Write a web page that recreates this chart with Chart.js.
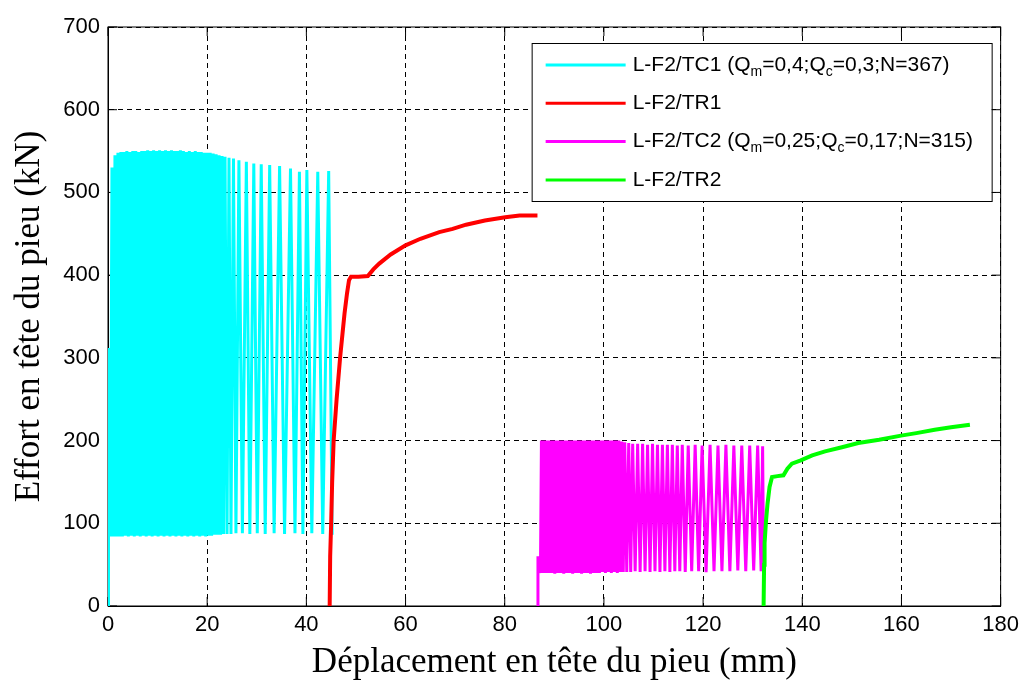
<!DOCTYPE html>
<html>
<head>
<meta charset="utf-8">
<script src="https://cdn.jsdelivr.net/npm/chart.js@4"></script>
<style>
html, body { margin: 0; padding: 0; background: #fff; }
#wrap { width: 1025px; height: 687px; }
</style>
</head>
<body>
<div id="wrap"><canvas class="graph"></canvas></div>
<script>
const tc1Points = [
    [0,0],[0.1,312],[0.5,84],[0.8,530],[1.1,84],[1.4,545],[1.7,84],[2.0,548],[2.3,84],[2.6,549],
    [2.9,84],[3.2,549],[3.5,85],[3.8,550],[4.1,84],[4.4,549],[4.7,85],[5.0,550],[5.3,84],[5.6,550],
    [5.9,85],[6.2,549],[6.5,84],[6.8,550],[7.1,85],[7.4,550],[7.7,84],[8.0,551],[8.3,85],[8.6,550],
    [8.9,84],[9.2,551],[9.5,85],[9.8,550],[10.1,84],[10.4,551],[10.7,85],[11.0,550],[11.3,84],[11.6,551],
    [11.9,85],[12.2,550],[12.5,84],[12.8,551],[13.1,85],[13.4,550],[13.7,84],[14.0,550],[14.3,85],[14.6,551],
    [14.9,84],[15.2,550],[15.5,85],[15.8,549],[16.1,84],[16.4,550],[16.7,85],[17.0,549],[17.3,84],[17.6,550],
    [17.9,85],[18.2,549],[18.5,84],[18.8,549],[19.1,85],[19.4,548],[19.7,84],[20.0,548],[20.3,85],[20.6,548],
    [20.9,85],[21.2,547],[21.5,86],[21.8,546],[22.1,86],[22.4,545],[22.7,86],[23.0,544],[23.3,87],[23.6,543],
    [24.0,87],[24.4,542],[24.8,87],[25.3,541],[25.8,88],[26.4,539],[27.1,88],[27.9,537],[28.6,87],[29.4,535],
    [30.1,88],[30.9,534],[31.7,87],[32.6,533],[33.5,88],[34.6,532],[35.6,87],[36.8,529],[37.7,88],[38.6,525],
    [39.3,87],[40.1,527],[41.1,88],[42.3,525],[43.3,87],[44.5,526],[45.2,86]
];
const tr1Points = [
    [44.7,0],[44.8,60],[45.0,100],[45.2,150],[45.5,200],[46.1,250],[46.8,300],[47.3,330],[47.7,354],[48.2,378],
    [48.6,394],[49.0,398],[50.5,398],[52.4,399],[53.5,407],[54.7,414],[57.0,425],[60.0,436],[63.0,444],[66.8,452],
    [69.5,456],[72.2,461],[76.0,466],[80.1,470],[83.0,472],[86.6,472]
];
const tc2Points = [
    [86.6,0],[86.7,60],[87.2,40],[87.4,200],[87.7,40],[88.0,200],[88.3,40],[88.6,200],[88.9,40],[89.2,200],
    [89.5,40],[89.8,200],[90.1,39],[90.4,200],[90.7,40],[91.0,200],[91.3,40],[91.6,200],[91.9,39],[92.2,200],
    [92.5,40],[92.8,200],[93.1,40],[93.4,200],[93.7,39],[94.0,200],[94.3,40],[94.6,200],[94.9,40],[95.2,200],
    [95.5,39],[95.8,200],[96.1,40],[96.4,200],[96.7,40],[97.0,200],[97.3,39],[97.6,200],[97.9,40],[98.2,200],
    [98.5,40],[98.8,200],[99.1,40],[99.4,200],[99.7,41],[100.0,200],[100.3,40],[100.6,200],[100.9,41],[101.2,200],
    [101.5,40],[101.8,200],[102.1,41],[102.4,200],[102.7,40],[103.0,200],[103.3,41],[103.6,199],[103.9,41],[104.2,198],
    [104.6,41],[105.0,197],[105.4,41],[105.8,196],[106.3,42],[106.8,196],[107.3,41],[107.8,196],[108.3,42],[108.8,195],
    [109.3,41],[109.8,196],[110.3,42],[110.8,195],[111.3,41],[111.8,195],[112.3,42],[112.8,195],[113.3,41],[113.8,195],
    [114.3,42],[114.8,194],[115.3,42],[115.8,195],[116.4,41],[117.0,194],[117.7,42],[118.4,195],[119.1,42],[119.8,194],
    [120.6,41],[121.4,195],[122.2,42],[123.0,194],[123.8,42],[124.6,195],[125.4,42],[126.2,194],[127.0,43],[127.8,194],
    [128.6,42],[129.4,194],[130.2,43],[131.0,194],[131.7,42],[132.0,193],[132.2,45]
];
const tr2Points = [
    [132.2,0],[132.3,50],[132.4,76],[132.7,104],[133.0,124],[133.4,144],[133.9,156],[135.0,157],[136.2,158],[137.0,166],
    [137.9,172],[139.7,176],[142.0,182],[144.6,187],[148.0,192],[151.3,197],[155.5,201],[159.9,206],[163.0,209],[166.7,213],
    [170.0,216],[173.8,219]
];
const seriesLabels = [
    'L-F2/TC1 (Q_m=0,4;Q_c=0,3;N=367)',
    'L-F2/TR1',
    'L-F2/TC2 (Q_m=0,25;Q_c=0,17;N=315)',
    'L-F2/TR2'
];
const xTicks = [0, 20, 40, 60, 80, 100, 120, 140, 160, 180];
const yTicks = [0, 100, 200, 300, 400, 500, 600, 700];

const toXY = pts => pts.map(p => ({x: p[0], y: p[1]}));

// legend text with subscripts (_m, _c)
function drawLabel(ctx, text, x, y) {
    ctx.textBaseline = 'middle';
    ctx.textAlign = 'left';
    ctx.fillStyle = '#000';
    text.split(/(_\w)/).forEach(p => {
        if (!p) return;
        if (p[0] === '_') {
            ctx.font = '14px "Liberation Sans", Arial, sans-serif';
            ctx.fillText(p.slice(1), x, y + 7);
            x += ctx.measureText(p.slice(1)).width;
        } else {
            ctx.font = '21px "Liberation Sans", Arial, sans-serif';
            ctx.fillText(p, x, y);
            x += ctx.measureText(p).width;
        }
    });
}

// matlab style box + inward ticks
const frameBox = {
    id: 'frameBox',
    beforeDatasetsDraw(chart) {
        const {ctx, chartArea: a, scales} = chart;
        ctx.save();
        ctx.strokeStyle = '#000';
        ctx.lineWidth = 1;
        ctx.strokeRect(a.left, a.top, a.right - a.left, a.bottom - a.top);
        ctx.beginPath();
        xTicks.forEach(v => {
            const px = scales.x.getPixelForValue(v);
            ctx.moveTo(px, a.bottom); ctx.lineTo(px, a.bottom - 9);
            ctx.moveTo(px, a.top); ctx.lineTo(px, a.top + 9);
        });
        yTicks.forEach(v => {
            const py = scales.y.getPixelForValue(v);
            ctx.moveTo(a.left, py); ctx.lineTo(a.left + 9, py);
            ctx.moveTo(a.right, py); ctx.lineTo(a.right - 9, py);
        });
        ctx.stroke();
        ctx.restore();
    }
};

const legendBox = {
    id: 'legendBox',
    afterDatasetsDraw(chart) {
        const {ctx, chartArea} = chart;
        const w = 460, h = 158;
        const x0 = chartArea.right - 9 - w, y0 = chartArea.top + 16;
        ctx.save();
        ctx.fillStyle = '#fff';
        ctx.fillRect(x0, y0, w, h);
        ctx.strokeStyle = '#000';
        ctx.lineWidth = 1;
        ctx.strokeRect(x0 + 0.5, y0 + 0.5, w, h);
        chart.data.datasets.forEach((ds, i) => {
            const y = y0 + 22 + i * 38.3;
            ctx.strokeStyle = ds.borderColor;
            ctx.lineWidth = 3;
            ctx.beginPath();
            ctx.moveTo(x0 + 14, y);
            ctx.lineTo(x0 + 94, y);
            ctx.stroke();
            drawLabel(ctx, ds.label, x0 + 101, y);
        });
        ctx.restore();
    }
};

const tickFont = {family: '"Liberation Sans", Arial, sans-serif', size: 22};
const titleFont = {family: '"Liberation Serif", "Times New Roman", serif', size: 35};

const ctx = document.querySelector('.graph');
const myChart = new Chart(ctx, {
    type: 'line',
    data: {
        datasets: [
            {label: seriesLabels[0], data: toXY(tc1Points), borderColor: '#00ffff', borderWidth: 3, order: 4},
            {label: seriesLabels[1], data: toXY(tr1Points), borderColor: '#ff0000', borderWidth: 4, order: 3},
            {label: seriesLabels[2], data: toXY(tc2Points), borderColor: '#ff00ff', borderWidth: 3, order: 2},
            {label: seriesLabels[3], data: toXY(tr2Points), borderColor: '#00ff00', borderWidth: 4, order: 1}
        ]
    },
    options: {
        animation: false,
        responsive: true,
        maintainAspectRatio: false,
        layout: {padding: {top: 27, right: 23, left: 0, bottom: 0}},
        elements: {
            point: {radius: 0, hoverRadius: 0},
            line: {tension: 0, borderJoinStyle: 'miter'}
        },
        scales: {
            x: {
                type: 'linear',
                min: 0,
                max: 180,
                afterBuildTicks: s => { s.ticks = xTicks.map(v => ({value: v})); },
                afterFit: s => { s.height = 81; },
                ticks: {color: '#000', font: tickFont, padding: 6, maxRotation: 0},
                grid: {color: '#000', lineWidth: 1, drawTicks: false},
                border: {display: true, color: '#000', width: 1, dash: [5, 4]},
                title: {display: true, text: 'Déplacement en tête du pieu (mm)', color: '#000', font: titleFont, padding: {top: 3, bottom: 3}}
            },
            y: {
                type: 'linear',
                min: 0,
                max: 700,
                afterBuildTicks: s => { s.ticks = yTicks.map(v => ({value: v})); },
                afterFit: s => { s.width = 108; },
                ticks: {color: '#000', font: tickFont, padding: 8},
                grid: {color: '#000', lineWidth: 1, drawTicks: false},
                border: {display: true, color: '#000', width: 1, dash: [5, 4]},
                title: {display: true, text: 'Effort en tête du pieu (kN)', color: '#000', font: titleFont, padding: {top: 9, bottom: 0}}
            }
        },
        plugins: {
            legend: {display: false},
            tooltip: {enabled: false}
        }
    },
    plugins: [frameBox, legendBox]
});
</script>
</body>
</html>
